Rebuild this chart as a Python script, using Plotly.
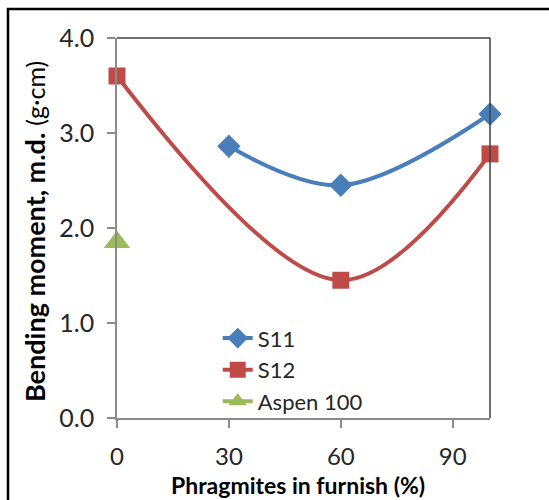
import plotly.graph_objects as go

s11_x = [30, 60, 100]
s11_y = [2.86, 2.45, 3.20]
s12_x = [0, 60, 100]
s12_y = [3.60, 1.45, 2.78]
aspen_x = [0]
aspen_y = [1.85]
x_ticks = [0, 30, 60, 90]
y_ticks = [0.0, 1.0, 2.0, 3.0, 4.0]

FONT = "Lato"
L, R, T, B = 117, 59, 38, 82
W, H = 549, 500
pw, ph = W - L - R, H - T - B

fig = go.Figure()
fig.add_trace(go.Scatter(x=s11_x, y=s11_y, name="S11", mode="lines+markers",
                         line=dict(color="#4a7ebb", width=4, shape="spline"),
                         marker=dict(symbol="diamond", size=18, color="#4a7ebb"),
                         cliponaxis=False))
fig.add_trace(go.Scatter(x=s12_x, y=s12_y, name="S12", mode="lines+markers",
                         line=dict(color="#be4b48", width=4, shape="spline"),
                         marker=dict(symbol="square", size=17, color="#be4b48"),
                         cliponaxis=False))
fig.add_trace(go.Scatter(x=aspen_x, y=aspen_y, name="Aspen 100", mode="lines+markers",
                         line=dict(color="#9bbb59", width=4),
                         marker=dict(symbol="triangle-up", size=23, color="#9bbb59"),
                         cliponaxis=False))

fig.update_layout(
    width=W, height=H,
    margin=dict(l=L, r=R, t=T, b=B, autoexpand=False),
    paper_bgcolor="white", plot_bgcolor="white",
    font=dict(family=FONT, color="#262626"),
    showlegend=True,
    legend=dict(x=0.27, y=0.265, xanchor="left", yanchor="top",
                bgcolor="rgba(0,0,0,0)", font=dict(size=22, family=FONT, color="#262626"),
                itemwidth=30, tracegroupgap=0),
    xaxis=dict(range=[0, 100], tickvals=x_ticks, ticktext=[str(v) for v in x_ticks],
               automargin=False,
               showgrid=False, zeroline=False, showline=True, linecolor="#8c8c8c", linewidth=1.5,
               ticks="outside", ticklen=8, tickcolor="#8c8c8c", tickwidth=1.5,
               ticklabelstandoff=8,
               tickfont=dict(size=24, family=FONT, color="#262626")),
    yaxis=dict(range=[0, 4], tickvals=y_ticks, tickformat=".1f",
               automargin=False,
               showgrid=False, zeroline=False, showline=True, linecolor="#8c8c8c", linewidth=1.5,
               ticks="outside", ticklen=8, tickcolor="#8c8c8c", tickwidth=1.5,
               ticklabelstandoff=8,
               tickfont=dict(size=25, family=FONT, color="#262626")),
)

# axis titles as annotations (pixel-placed)
fig.add_annotation(text="<b>Phragmites in furnish (%)</b>", xref="paper", yref="paper",
                   x=(298 - L) / pw, y=(H - B - 485) / ph, xanchor="center", yanchor="middle",
                   showarrow=False, borderpad=0,
                   font=dict(size=23, family=FONT, color="#000"))
fig.add_annotation(text="<b>Bending moment, m.d.</b> <span style='font-size:25px'>(g·cm)</span>",
                   xref="paper", yref="paper", textangle=-90,
                   x=(34 - L) / pw, y=(H - B - 232) / ph, xanchor="center", yanchor="middle",
                   showarrow=False, font=dict(size=27, family=FONT, color="#000"))

# top and right border of the plot area
fig.add_shape(type="line", xref="paper", yref="paper", x0=0, x1=1, y0=1, y1=1,
              line=dict(color="#404040", width=1.5))
fig.add_shape(type="line", xref="paper", yref="paper", x0=1, x1=1, y0=0, y1=1,
              line=dict(color="#404040", width=1.5))
# outer frame (cut off at right/bottom in the reference)
fx0 = (8 - L) / pw
fy1 = (H - B - 9) / ph
fig.add_shape(type="rect", xref="paper", yref="paper", x0=fx0, x1=2, y0=-1, y1=fy1,
              line=dict(color="#000", width=2.5), layer="below")

fig.write_html("out.html")
